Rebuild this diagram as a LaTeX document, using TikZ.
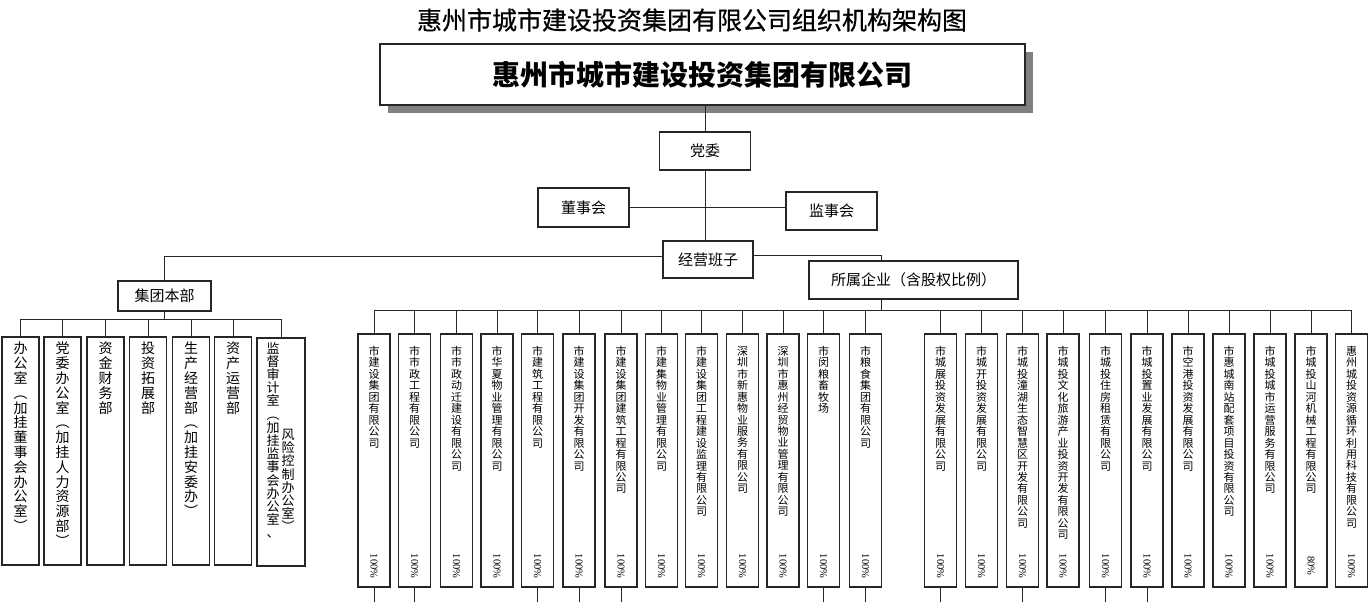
\documentclass[tikz,border=0pt]{standalone}
\usepackage{fontspec}
\setmainfont{Liberation Serif}
\newfontfamily\cjk{Noto Sans CJK SC}
\newfontfamily\cjkt[FakeBold=0.6]{Noto Sans CJK SC}
\newcommand\vst[1]{\vbox{\lineskiplimit=-1000pt\relax\expandafter\vstloop#1\relax}}
\def\vstloop#1{\ifx\relax#1\else\hbox to 1em{\hss#1\hss}\expandafter\vstloop\fi}
\definecolor{shadowc}{RGB}{128,128,128}
\begin{document}
\begin{tikzpicture}[x=1pt,y=-1pt,
  ln/.style={draw=black!85, line width=1pt},
  bx/.style={draw=black!85, line width=1.2pt, fill=white, inner sep=0pt, outer sep=0pt},
  lbl/.style={font=\cjk\fontsize{15}{18}\selectfont},
  cbox/.style={bx, minimum width=32pt, minimum height=253pt},
  dbox/.style={bx, minimum width=37pt, minimum height=228pt},
  ctext/.style={anchor=north, inner sep=0pt, font=\cjk\fontsize{11}{11.45}\selectfont},
  dtext/.style={anchor=north, inner sep=0pt, font=\cjk\fontsize{14}{14.8}\selectfont},
  d7text/.style={anchor=north, inner sep=0pt, font=\cjk\fontsize{13}{13.2}\selectfont},
  pct/.style={rotate=-90, inner sep=0pt, font=\fontsize{10.5}{12}\selectfont},
]
\useasboundingbox (0,0) rectangle (1369,602);
\fill[white] (0,0) rectangle (1369,602);

% title
\node[inner sep=0pt, font=\cjkt\fontsize{25}{30}\selectfont] (title) at (692,20) {惠州市城市建设投资集团有限公司组织机构架构图};

% main box with shadow
\fill[shadowc] (388,52) rectangle (1033,113);
\node[bx, minimum width=645pt, minimum height=61pt, font=\cjk\bfseries\fontsize{28}{34}\selectfont] (main) at (702.5,74.5) {惠州市城市建设投资集团有限公司};

% upper boxes
\node[bx, lbl, minimum width=91pt, minimum height=38pt] (dw) at (705,151) {党委};
\node[bx, lbl, minimum width=91pt, minimum height=39pt] (dsh) at (583.5,207.5) {董事会};
\node[bx, lbl, minimum width=91pt, minimum height=38pt] (jsh) at (831.5,211) {监事会};
\node[bx, lbl, minimum width=90pt, minimum height=37pt] (jy) at (708,259.5) {经营班子};
\node[bx, lbl, minimum width=209pt, minimum height=38pt] (sq) at (913.5,280) {所属企业（含股权比例）};
\node[bx, lbl, minimum width=93pt, minimum height=30pt] (jt) at (164.5,296) {集团本部};

\coordinate (cb) at (881,310);
\coordinate (db) at (164,319);

% connectors upper
\draw[ln] (main.south -| dw.north) -- (dw.north);
\draw[ln] (dw.south) -- (dw.south |- jy.north);
\draw[ln] (dsh.east) -- (dsh.east -| jsh.west);
\draw[ln] ([yshift=3pt]jy.west) -| (jt.north);
\draw[ln] ([yshift=4pt]jy.east) -| (sq.north -| cb);
\draw[ln] (sq.south -| cb) -- (cb);
\draw[ln] (jt.south -| db) -- (db);

% departments
\foreach \i/\x in {1/20.5,2/62.5,3/105.5,4/148,5/191,6/233} {
  \node[dbox] (d\i) at (\x,451) {};
}
\node[bx, minimum width=48pt, minimum height=228pt] (d7) at (281,452) {};
\draw[ln] (d1.north |- db) -- (d7.north |- db);
\foreach \i in {1,...,7} { \draw[ln] (d\i.north) -- (d\i.north |- db); }

\node[dtext] (dt1) at (d1.north |- 0,342) {\vst{办公室︵加挂董事会办公室︶}};
\node[dtext] (dt2) at (d2.north |- 0,342) {\vst{党委办公室︵加挂人力资源部︶}};
\node[dtext] (dt3) at (d3.north |- 0,342) {\vst{资金财务部}};
\node[dtext] (dt4) at (d4.north |- 0,342) {\vst{投资拓展部}};
\node[dtext] (dt5) at (d5.north |- 0,342) {\vst{生产经营部︵加挂安委办︶}};
\node[dtext] (dt6) at (d6.north |- 0,342) {\vst{资产运营部}};
\node[d7text] (dt7a) at (273,342) {\vst{监督审计室︵加挂监事会办公室、}};
\node[d7text] (dt7b) at (288,429) {\vst{风险控制办公室︶}};

% companies
\foreach \i/\x/\p/\t in {
  1/374/100/市建设集团有限公司,
  2/414.5/100/市市政工程有限公司,
  3/456.5/100/市市政动迁建设有限公司,
  4/497/100/市华夏物业管理有限公司,
  5/537.5/100/市建筑工程有限公司,
  6/579/100/市建设集团开发有限公司,
  7/621/100/市建设集团建筑工程有限公司,
  8/661.5/100/市建集物业管理有限公司,
  9/701.5/100/市建设集团工程建设监理有限公司,
  10/742.5/100/深圳市新惠物业服务有限公司,
  11/783/100/深圳市惠州经贸物业管理有限公司,
  12/823.5/100/市闵粮畜牧场,
  13/865.5/100/市粮食集团有限公司,
  14/940.5/100/市城展投资发展有限公司,
  15/981.5/100/市城开投资发展有限公司,
  16/1022.5/100/市城投潼湖生态智慧区开发有限公司,
  17/1063/100/市城投文化旅游产业投资开发有限公司,
  18/1105.5/100/市城投住房租赁有限公司,
  19/1147/100/市城投置业发展有限公司,
  20/1188/100/市空港投资发展有限公司,
  21/1229/100/市惠城南站配套项目投资有限公司,
  22/1270/100/市城投城市运营服务有限公司,
  23/1311/80/市城投山河机械工程有限公司,
  24/1351.5/100/惠州城投资源循环利用科技有限公司} {
  \node[cbox] (c\i) at (\x,460.5) {};
  \node[ctext] (ct\i) at (\x,346) {\vst{\t}};
  \node[pct] (cp\i) at (\x,566) {\p\%};
}
\draw[ln] (c1.north |- cb) -- (c24.north |- cb);
\foreach \i in {1,...,24} { \draw[ln] (c\i.north) -- (c\i.north |- cb); }
\foreach \i in {1,2,5,6,7,12,13,14,16,18,19} { \draw[ln] (c\i.south) -- ++(0,16); }
\end{tikzpicture}
\end{document}
